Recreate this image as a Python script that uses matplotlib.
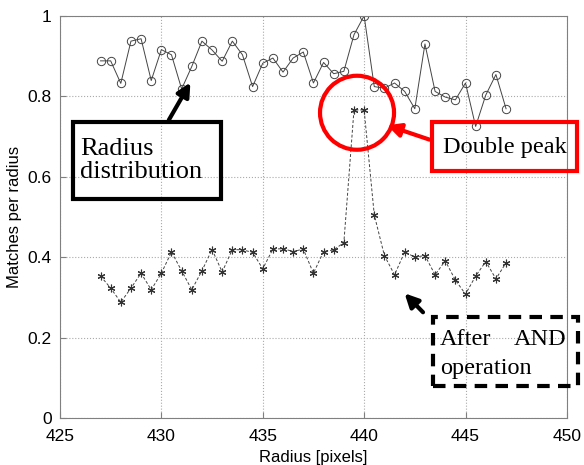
import numpy as np
import matplotlib.pyplot as plt
from matplotlib.patches import Rectangle, Ellipse

# Data
radius = np.arange(427, 447.5, 0.5)
radius_dist = [0.888, 0.888, 0.832, 0.937, 0.943, 0.839, 0.916, 0.903, 0.818, 0.874,
               0.937, 0.915, 0.887, 0.937, 0.903, 0.824, 0.882, 0.895, 0.860, 0.895,
               0.910, 0.833, 0.884, 0.856, 0.862, 0.953, 1.000, 0.824, 0.820, 0.833,
               0.812, 0.769, 0.930, 0.812, 0.798, 0.791, 0.833, 0.725, 0.803, 0.854,
               0.769]
after_and = [0.353, 0.323, 0.288, 0.323, 0.360, 0.319, 0.360, 0.413, 0.366, 0.319,
             0.366, 0.419, 0.363, 0.419, 0.418, 0.412, 0.371, 0.420, 0.421, 0.414,
             0.420, 0.360, 0.414, 0.418, 0.436, 0.766, 0.766, 0.505, 0.404, 0.356,
             0.413, 0.400, 0.404, 0.356, 0.391, 0.343, 0.308, 0.353, 0.389, 0.346,
             0.386]

plt.rcParams['font.family'] = ['Liberation Sans', 'DejaVu Sans']

fig = plt.figure(figsize=(5.84, 4.65), dpi=100)
ax = fig.add_axes([0.1027, 0.101, 0.868, 0.865])

ax.plot(radius, radius_dist, '-', color='#444444', lw=0.7,
        marker='o', ms=6, mfc='none', mec='#444444', mew=0.7)
ax.plot(radius, after_and, '--', color='#444444', lw=0.7, dashes=(3, 2),
        marker=(6, 2, 0), ms=5.5, mec='#333333', mew=0.8)

ax.set_xlim(425, 450)
ax.set_ylim(0, 1)
ax.set_xticks([425, 430, 435, 440, 445, 450])
ax.set_yticks([0, 0.2, 0.4, 0.6, 0.8, 1])
ax.set_yticklabels(['0', '0.2', '0.4', '0.6', '0.8', '1'])
ax.grid(True, ls=':', color='#aaaaaa', lw=0.8)
ax.tick_params(direction='in', labelsize=12.5, length=4, color='#808080')
ax.tick_params(axis='x', pad=8)
ax.tick_params(axis='y', pad=6)
for s in ax.spines.values():
    s.set_color('#808080')
ax.set_xlabel('Radius [pixels]', fontsize=12, labelpad=4)
ax.set_ylabel('Matches per radius', fontsize=12, labelpad=4)

serif = ['Liberation Serif', 'DejaVu Serif']
fs = 17.5
arrow = '-|>,head_width=0.4,head_length=0.8'

# Radius distribution box
ax.add_patch(Rectangle((425.65, 0.545), 7.3, 0.19, fill=False, ec='black', lw=3,
                       clip_on=False, zorder=5))
ax.text(426.0, 0.64, 'Radius\ndistribution', family=serif, fontsize=19,
        va='center', ha='left', linespacing=1.1, zorder=6)
ax.annotate('', xy=(431.5, 0.84), xytext=(430.3, 0.735),
            arrowprops=dict(arrowstyle=arrow, color='black', lw=3), zorder=6)

# Double peak
ax.add_patch(Ellipse((439.65, 0.759), 3.65, 0.184, fill=False, ec='red', lw=3,
                     zorder=5))
ax.add_patch(Rectangle((443.35, 0.615), 7.15, 0.12, fill=False, ec='red', lw=3,
                       clip_on=False, zorder=5))
ax.text(446.95, 0.672, 'Double peak', family=serif, fontsize=fs,
        va='center', ha='center', zorder=6)
ax.annotate('', xy=(441.0, 0.73), xytext=(443.35, 0.69),
            arrowprops=dict(arrowstyle=arrow, color='red', lw=3), zorder=6)

# After AND operation
ax.add_patch(Rectangle((443.4, 0.08), 7.15, 0.17, fill=False, ec='black', lw=3,
                       ls=(0, (3, 2)), clip_on=False, zorder=5))
ax.text(443.75, 0.195, 'After', family=serif, fontsize=fs, va='center',
        ha='left', zorder=6)
ax.text(450.0, 0.195, 'AND', family=serif, fontsize=fs, va='center',
        ha='right', zorder=6)
ax.text(443.75, 0.122, 'operation', family=serif, fontsize=fs, va='center',
        ha='left', zorder=6)
ax.annotate('', xy=(441.9, 0.315), xytext=(443.0, 0.258),
            arrowprops=dict(arrowstyle=arrow, color='black', lw=3), zorder=6)

fig.savefig('out.png', dpi=100)
